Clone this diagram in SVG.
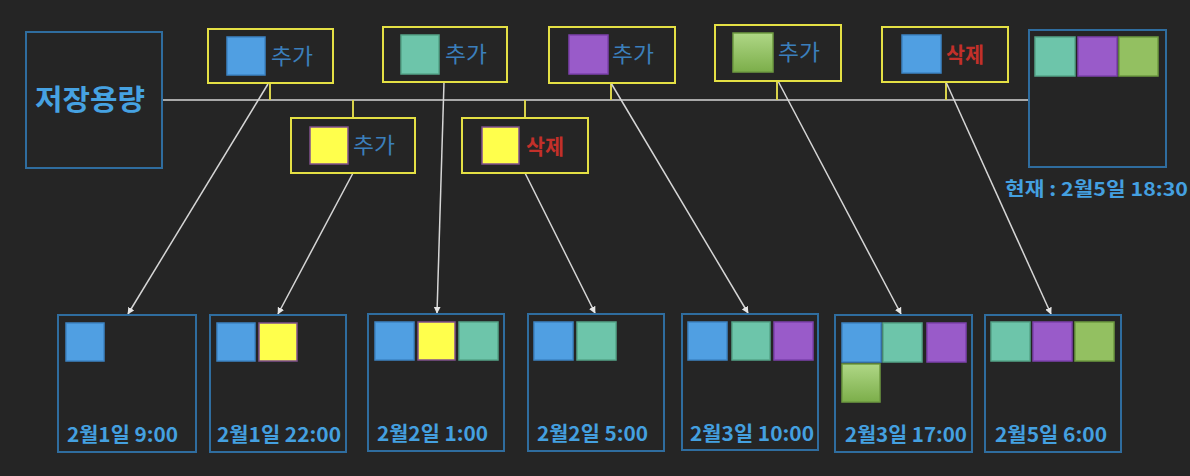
<svg xmlns="http://www.w3.org/2000/svg" width="1190" height="476" viewBox="0 0 1190 476">
<defs>
<style>
.bg{fill:#252525}
.bbox{fill:none;stroke:#2f6d9f;stroke-width:2}
.ybox{fill:none;stroke:#e4e044;stroke-width:2}
.tick{stroke:#d8d24a;stroke-width:2}
.ln{stroke:#d6d6d6;stroke-width:1.5;fill:none}
.arr{stroke:#d6d6d6;stroke-width:1.5;fill:none;marker-end:url(#ah)}
.sq{stroke-width:1.5}
.b{fill:#509fe2;stroke:#3c84c4}
.t{fill:#6dc5aa;stroke:#54a488}
.p{fill:#995bc9;stroke:#7d41ad}
.y{fill:#ffff4c;stroke:#80508c}
.g{fill:#93c061;stroke:#6e9a40}
.gg{fill:url(#grn);stroke:#6e9a40}
.lbl{font-family:"Noto Sans CJK KR","Noto Sans",sans-serif;font-size:22px;fill:#3b7fbb}
.del{font-family:"Noto Sans CJK KR","Noto Sans",sans-serif;font-size:21px;font-weight:bold;fill:#c3302a}
.time{font-family:"Noto Sans CJK KR","Noto Sans",sans-serif;font-size:20px;font-weight:bold;fill:#44a0e0}
.title{font-family:"Noto Sans CJK KR","Noto Sans",sans-serif;font-size:28px;font-weight:bold;fill:#46a2e2}
</style>
<linearGradient id="grn" x1="0" y1="0" x2="0" y2="1">
<stop offset="0" stop-color="#afd786"/>
<stop offset="1" stop-color="#7cae4a"/>
</linearGradient>
<marker id="ah" viewBox="0 0 10 10" refX="9" refY="5" markerWidth="7" markerHeight="7" orient="auto" markerUnits="userSpaceOnUse">
<path d="M0,0 L10,5 L0,10 z" fill="#e6e6e6"/>
</marker>
</defs>
<rect class="bg" x="0" y="0" width="1190" height="476"/>

<g id="connectors">
<line class="ln" x1="162" y1="100" x2="1029" y2="100"/>
<line class="tick" x1="270" y1="83" x2="270" y2="100"/>
<line class="tick" x1="353" y1="100" x2="353" y2="118"/>
<line class="tick" x1="525" y1="100" x2="525" y2="118"/>
<line class="tick" x1="611" y1="83" x2="611" y2="100"/>
<line class="tick" x1="777" y1="81" x2="777" y2="100"/>
<line class="tick" x1="946" y1="82" x2="946" y2="100"/>
<line class="arr" x1="268" y1="84" x2="128" y2="314"/>
<line class="arr" x1="353" y1="173" x2="278" y2="314"/>
<line class="arr" x1="444" y1="82" x2="437" y2="313"/>
<line class="arr" x1="525" y1="173" x2="595" y2="313"/>
<line class="arr" x1="611" y1="83" x2="748" y2="313"/>
<line class="arr" x1="778" y1="81" x2="901" y2="314"/>
<line class="arr" x1="946" y1="82" x2="1051" y2="314"/>
</g>

<g id="storage">
<rect class="bbox" x="26" y="32" width="136" height="136"/>
<text class="title" x="35" y="110" textLength="110" lengthAdjust="spacingAndGlyphs">저장용량</text>
</g>

<g id="ev1">
<rect class="ybox" x="208" y="29" width="125" height="54"/>
<rect class="sq b" x="227" y="37" width="38" height="38"/>
<text class="lbl" x="271" y="64" textLength="42" lengthAdjust="spacingAndGlyphs">추가</text>
</g>
<g id="ev2">
<rect class="ybox" x="291" y="118" width="124" height="55"/>
<rect class="sq y" x="310" y="127" width="38" height="37"/>
<text class="lbl" x="353" y="153" textLength="42" lengthAdjust="spacingAndGlyphs">추가</text>
</g>
<g id="ev3">
<rect class="ybox" x="383" y="27" width="124" height="55"/>
<rect class="sq t" x="401" y="35" width="38" height="39"/>
<text class="lbl" x="445" y="62" textLength="42" lengthAdjust="spacingAndGlyphs">추가</text>
</g>
<g id="ev4">
<rect class="ybox" x="462" y="118" width="126" height="55"/>
<rect class="sq y" x="482" y="127" width="37" height="37"/>
<text class="del" x="526" y="154" textLength="38" lengthAdjust="spacingAndGlyphs">삭제</text>
</g>
<g id="ev5">
<rect class="ybox" x="549" y="27" width="126" height="56"/>
<rect class="sq p" x="569" y="35" width="39" height="39"/>
<text class="lbl" x="612" y="62" textLength="42" lengthAdjust="spacingAndGlyphs">추가</text>
</g>
<g id="ev6">
<rect class="ybox" x="715" y="25" width="126" height="56"/>
<rect class="sq gg" x="733" y="33" width="40" height="39"/>
<text class="lbl" x="778" y="60" textLength="42" lengthAdjust="spacingAndGlyphs">추가</text>
</g>
<g id="ev7">
<rect class="ybox" x="882" y="27" width="126" height="55"/>
<rect class="sq b" x="902" y="35" width="39" height="38"/>
<text class="del" x="946" y="62" textLength="38" lengthAdjust="spacingAndGlyphs">삭제</text>
</g>

<g id="current">
<rect class="bbox" x="1029" y="30" width="137" height="137"/>
<rect class="sq t" x="1035" y="37" width="40" height="39"/>
<rect class="sq p" x="1078" y="37" width="39" height="39"/>
<rect class="sq g" x="1119" y="37" width="39" height="39"/>
<text class="time" x="1005" y="196" style="font-size:19px" textLength="183" lengthAdjust="spacingAndGlyphs">현재 : 2월5일 18:30</text>
</g>

<g id="s1">
<rect class="bbox" x="58" y="315" width="138" height="137"/>
<rect class="sq b" x="66" y="323" width="38" height="38"/>
<text class="time" x="67" y="442" textLength="111" lengthAdjust="spacingAndGlyphs">2월1일 9:00</text>
</g>
<g id="s2">
<rect class="bbox" x="210" y="315" width="136" height="137"/>
<rect class="sq b" x="217" y="323" width="38" height="38"/>
<rect class="sq y" x="259" y="323" width="38" height="38"/>
<text class="time" x="217" y="442" textLength="124" lengthAdjust="spacingAndGlyphs">2월1일 22:00</text>
</g>
<g id="s3">
<rect class="bbox" x="368" y="314" width="136" height="137"/>
<rect class="sq b" x="375" y="322" width="39" height="38"/>
<rect class="sq y" x="418" y="322" width="37" height="38"/>
<rect class="sq t" x="459" y="322" width="39" height="38"/>
<text class="time" x="377" y="441" textLength="111" lengthAdjust="spacingAndGlyphs">2월2일 1:00</text>
</g>
<g id="s4">
<rect class="bbox" x="528" y="314" width="136" height="137"/>
<rect class="sq b" x="534" y="322" width="39" height="38"/>
<rect class="sq t" x="577" y="322" width="39" height="38"/>
<text class="time" x="537" y="441" textLength="111" lengthAdjust="spacingAndGlyphs">2월2일 5:00</text>
</g>
<g id="s5">
<rect class="bbox" x="682" y="314" width="136" height="136"/>
<rect class="sq b" x="688" y="322" width="39" height="38"/>
<rect class="sq t" x="732" y="322" width="38" height="38"/>
<rect class="sq p" x="774" y="322" width="39" height="38"/>
<text class="time" x="690" y="441" textLength="124" lengthAdjust="spacingAndGlyphs">2월3일 10:00</text>
</g>
<g id="s6">
<rect class="bbox" x="835" y="315" width="137" height="137"/>
<rect class="sq b" x="842" y="323" width="39" height="39"/>
<rect class="sq t" x="883" y="323" width="39" height="39"/>
<rect class="sq p" x="927" y="323" width="39" height="39"/>
<rect class="sq gg" x="842" y="364" width="38" height="38"/>
<text class="time" x="845" y="442" textLength="122" lengthAdjust="spacingAndGlyphs">2월3일 17:00</text>
</g>
<g id="s7">
<rect class="bbox" x="985" y="315" width="136" height="137"/>
<rect class="sq t" x="991" y="322" width="39" height="39"/>
<rect class="sq p" x="1033" y="322" width="39" height="39"/>
<rect class="sq g" x="1075" y="322" width="39" height="39"/>
<text class="time" x="995" y="442" textLength="112" lengthAdjust="spacingAndGlyphs">2월5일 6:00</text>
</g>
</svg>
